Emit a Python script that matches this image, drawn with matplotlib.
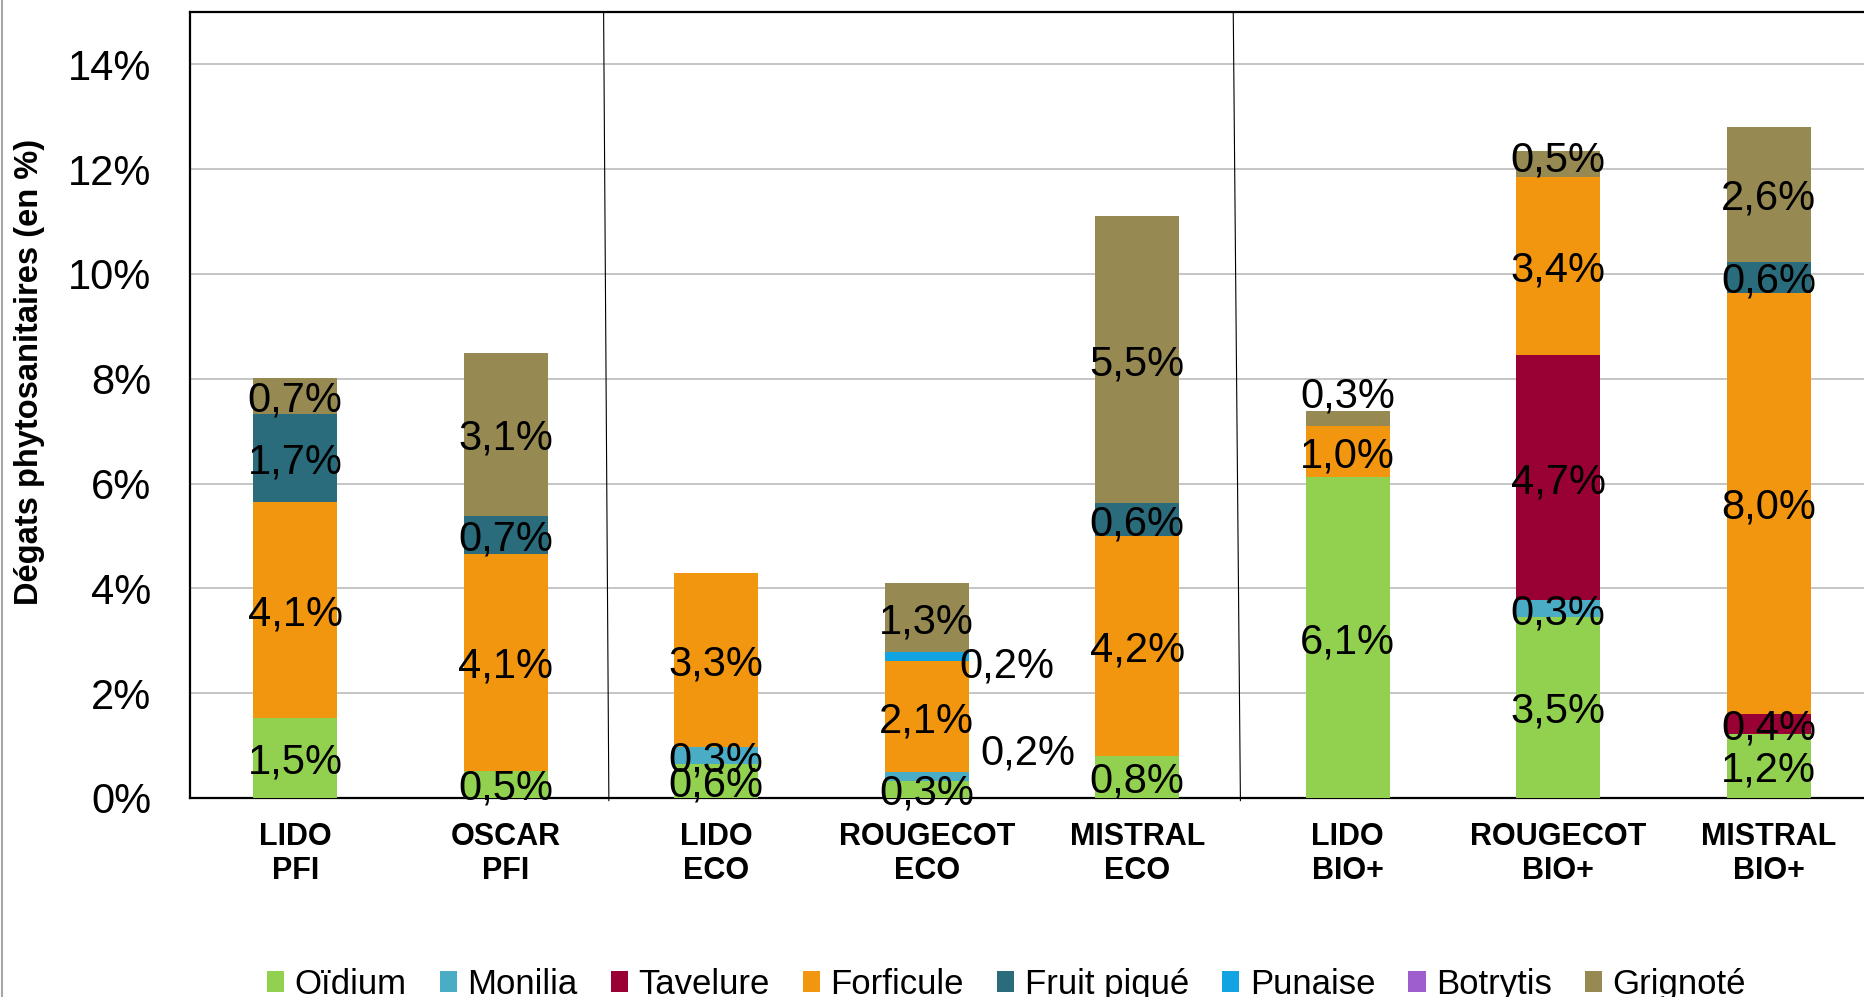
import numpy as np
import matplotlib.pyplot as plt
from matplotlib.patches import Patch
from matplotlib.lines import Line2D

plt.rcParams['font.family'] = ['Liberation Sans', 'DejaVu Sans']

# =========================================================
# Données (dégâts en %)
# =========================================================
varietes = ["LIDO\nPFI", "OSCAR\nPFI", "LIDO\nECO", "ROUGECOT\nECO", "MISTRAL\nECO",
            "LIDO\nBIO+", "ROUGECOT\nBIO+", "MISTRAL\nBIO+"]
series = ["Oïdium", "Monilia", "Tavelure", "Forficule", "Fruit piqué", "Punaise", "Botrytis", "Grignoté"]

oidium      = [1.52, 0.52, 0.64, 0.33, 0.80, 6.12, 3.46, 1.23]
monilia     = [0.00, 0.00, 0.33, 0.16, 0.00, 0.00, 0.31, 0.00]
tavelure    = [0.00, 0.00, 0.00, 0.00, 0.00, 0.00, 4.69, 0.37]
forficule   = [4.12, 4.14, 3.33, 2.13, 4.20, 0.98, 3.40, 8.04]
fruit_pique = [1.68, 0.73, 0.00, 0.00, 0.62, 0.00, 0.00, 0.59]
punaise     = [0.00, 0.00, 0.00, 0.16, 0.00, 0.00, 0.00, 0.00]
botrytis    = [0.00, 0.00, 0.00, 0.00, 0.00, 0.00, 0.00, 0.00]
grignote    = [0.70, 3.11, 0.00, 1.32, 5.48, 0.28, 0.49, 2.58]

y_ticks = [0, 2, 4, 6, 8, 10, 12, 14]

# -----------------------------
# Style
# -----------------------------
colors = ["#92D050", "#4BACC6", "#990033", "#F3960F", "#2A6B7C", "#12A3E2", "#9E5ECE", "#968A52"]

# étiquettes déplacées à la main (serie, barre) -> (dx, dy)
label_offsets = {
    (1, 3): (0.48, 0.53),
    (5, 3): (0.38, -0.10),
    (7, 5): (0.00, 0.50),
    (7, 6): (0.00, 0.15),
}

# =========================================================
# Plot
# =========================================================
data = np.array([oidium, monilia, tavelure, forficule, fruit_pique, punaise, botrytis, grignote])
x = np.arange(len(varietes))

fig = plt.figure(figsize=(18.64, 9.97), dpi=100)
ax = fig.add_axes([0.1019, 0.1996, 0.9035, 0.7884])

bottom = np.zeros(len(varietes))
for i, name in enumerate(series):
    vals = data[i]
    ax.bar(x, vals, width=0.4, bottom=bottom, color=colors[i], label=name, zorder=3)
    for j, v in enumerate(vals):
        if v <= 0:
            continue
        dx, dy = label_offsets.get((i, j), (0.0, 0.0))
        txt = f"{v:.1f}".replace(".", ",") + "%"
        ax.text(x[j] + dx, bottom[j] + v / 2 + dy, txt, ha="center", va="center_baseline",
                fontsize=30, color="black", zorder=5)
    bottom += vals

ax.set_xlim(-0.5, 7.5)
ax.set_ylim(0, 15)
ax.set_yticks(y_ticks)
ax.set_yticklabels([f"{t}%" for t in y_ticks])
ax.set_xticks(x)
ax.set_xticklabels(varietes, fontsize=22, fontweight="bold", linespacing=1.2)

ax.yaxis.grid(True, color="#C0C0C0", lw=1.3, zorder=0)
ax.set_axisbelow(True)
ax.tick_params(axis="y", length=0, pad=28, labelsize=30)
ax.tick_params(axis="x", length=0, pad=17)
for s in ["left", "top", "bottom", "right"]:
    ax.spines[s].set_color("black")
    ax.spines[s].set_linewidth(1.6)

# séparateurs PFI / ECO / BIO+
ax.plot([1.465, 1.49], [15, -0.05], color="black", lw=0.8, clip_on=False, zorder=4)
ax.plot([4.456, 4.49], [15, -0.05], color="black", lw=0.8, clip_on=False, zorder=4)

fig.text(30 / 1864, 1 - 372 / 997, "Dégats phytosanitaires (en %)", rotation=90,
         ha="center", va="center", fontsize=23.5, fontweight="bold")

handles = [Patch(facecolor=c, edgecolor="none") for c in colors]
fig.legend(handles, series, loc="center", bbox_to_anchor=(0.540, 0.013), ncol=8,
           frameon=False, fontsize=25, handlelength=0.5, handleheight=0.55,
           handletextpad=0.3, columnspacing=0.95, borderaxespad=0)

fig.add_artist(Line2D([0.001, 0.001], [0, 1], transform=fig.transFigure, color="#A6A6A6", lw=1.5))

plt.savefig("out.png", dpi=100)
